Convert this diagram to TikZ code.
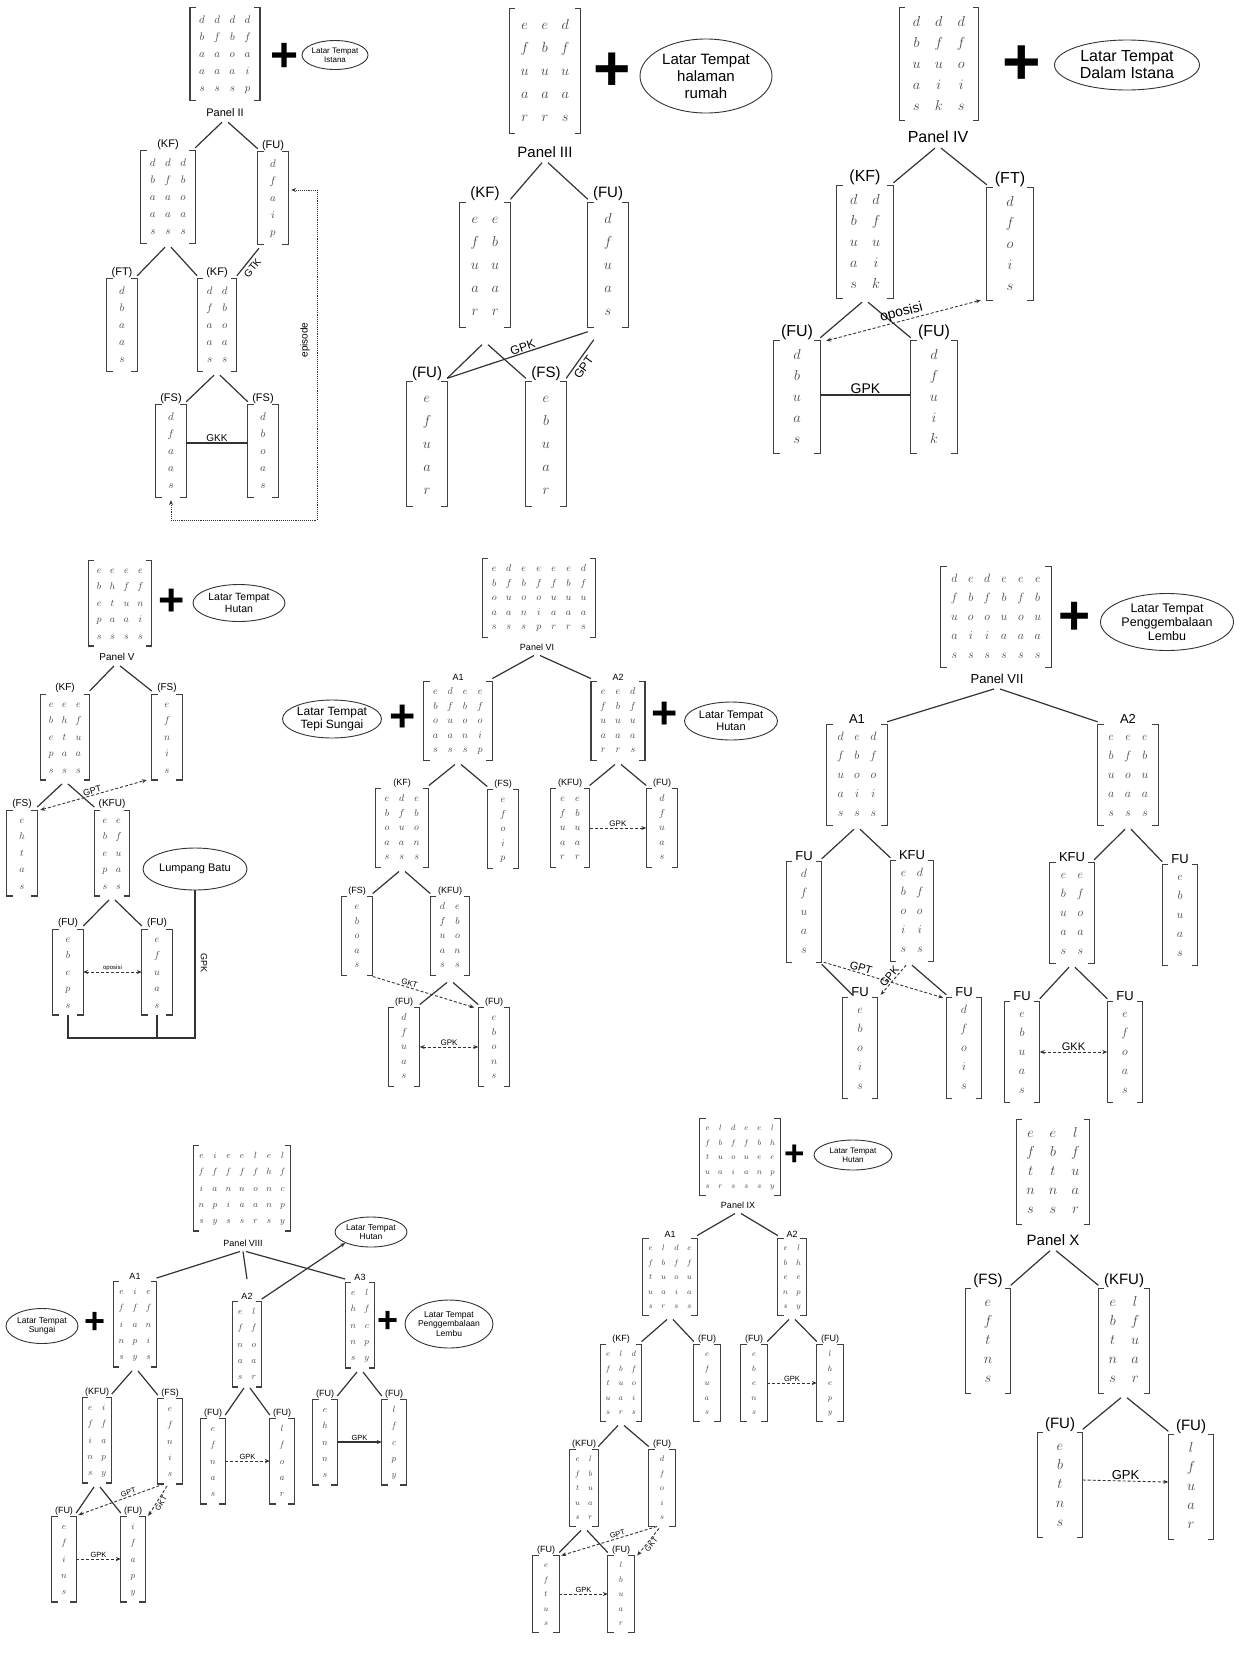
\documentclass[tikz,border=0pt]{standalone}
\usepackage{amsmath}
\usepackage{fontspec}
\setmainfont{Liberation Sans}
\usetikzlibrary{arrows.meta,shapes.geometric}

\tikzset{
  tree/.style={draw=black!80, line width=1.2pt},
  brk/.style={draw=black!75, line width=1.1pt},
  rel/.style={draw=black!80, line width=0.9pt, densely dashed},
  tip/.style={-{Stealth[length=5pt,width=4pt]}},
  tips/.style={{Stealth[length=5pt,width=4pt]}-{Stealth[length=5pt,width=4pt]}},
  ell/.style={ellipse, draw=black!80, line width=0.9pt, align=center, inner sep=0pt},
  plus/.style={font=\bfseries\fontsize{#1}{#1}\selectfont, inner sep=0pt},
  mtx/.style n args={5}{text=black!72, font=\fontsize{#1}{#2}\selectfont\setlength{\arraycolsep}{#3pt},
    inner xsep=#4pt, inner ysep=#5pt},
  hd/.style={label={[tg]above:{#1}}},
}

% brackets round the matrix nodes
\newcommand{\brackets}[1]{%
  \foreach \m in {#1}{%
    \draw[brk] ([xshift=6pt]\m.north west) -| (\m.south west) -- ++(6pt,0pt)
               ([xshift=-6pt]\m.north east) -| (\m.south east) -- ++(-6pt,0pt);}}
% two branches from a parent
\newcommand{\fork}[4][4pt]{%
  \draw[tree] ([xshift=-3pt,yshift=-#1]#2.south) -- ([yshift=3pt]#3.north east)
              ([xshift=3pt,yshift=-#1]#2.south) -- ([yshift=3pt]#4.north west);}

\begin{document}
\begin{tikzpicture}[x=1pt, y=-1pt, tg/.style={inner sep=1pt}]
\useasboundingbox (0,0) rectangle (1244,1663);
\fill[white] (0,0) rectangle (1244,1663);

% Panel II
\begin{scope}[mx/.style={mtx={11}{17}{4.5}{9}{3.5}, minimum width=30pt},
  tg/.style={font=\fontsize{11}{11}\selectfont, inner sep=1pt},
  rl/.style={font=\fontsize{10}{10}\selectfont, inner sep=1pt}]
  \node[mx] (p2top) at (225,54) {$\begin{matrix}d&d&d&d\\b&f&b&f\\a&a&o&a\\a&a&a&i\\s&s&s&p\end{matrix}$};
  \node[plus=48] (p2plus) at (285,57) {+};
  \node[ell, minimum width=62pt, minimum height=29pt, font=\fontsize{8}{9}\selectfont] (p2set) at (335,55) {Latar Tempat\\Istana};
  \node[tg] (p2lbl) at (225,113) {Panel II};
  \node[mx, hd={(KF)}] (p2kf) at (168,197) {$\begin{matrix}d&d&d\\b&f&b\\a&a&o\\a&a&a\\s&s&s\end{matrix}$};
  \node[mx, hd={(FU)}] (p2fu) at (273,198) {$\begin{matrix}d\\f\\a\\i\\p\end{matrix}$};
  \node[mx, hd={(FT)}] (p2ft) at (122,325) {$\begin{matrix}d\\b\\a\\a\\s\end{matrix}$};
  \node[mx, hd={(KF)}] (p2kfb) at (217,325) {$\begin{matrix}d&d\\f&b\\a&o\\a&a\\s&s\end{matrix}$};
  \node[mx, hd={(FS)}] (p2fsa) at (171,451) {$\begin{matrix}d\\f\\a\\a\\s\end{matrix}$};
  \node[mx, hd={(FS)}] (p2fsb) at (263,451) {$\begin{matrix}d\\b\\o\\a\\s\end{matrix}$};
  \brackets{p2top,p2kf,p2fu,p2ft,p2kfb,p2fsa,p2fsb}
  \fork{p2lbl}{p2kf}{p2fu}
  \fork{p2kf}{p2ft}{p2kfb}
  \fork{p2kfb}{p2fsa}{p2fsb}
  \draw[tree] ([xshift=-14pt,yshift=-4pt]p2fu.south) -- node[rl, sloped, below=2pt, pos=.55] {GTK} ([yshift=3pt]p2kfb.north east);
  \draw[tree] ([yshift=8pt]p2fsa.east) -- node[rl, above] {GKK} ([yshift=8pt]p2fsb.west);
  \coordinate (p2turn) at (317,520);
  \draw[rel, densely dotted, tips] ([xshift=3pt,yshift=8pt]p2fu.east) -| (p2turn) -| ([yshift=-3pt]p2fsa.south);
  \node[rl, rotate=90] (p2epi) at (305,340) {episode};
\end{scope}

% Panel III
\begin{scope}[mx/.style={mtx={15}{23}{6}{11}{5}, minimum width=40pt},
  tg/.style={font=\fontsize{15}{15}\selectfont, inner sep=1pt},
  rl/.style={font=\fontsize{12}{12}\selectfont, inner sep=1pt}]
  \node[mx] (p3top) at (545,71) {$\begin{matrix}e&e&d\\f&b&f\\u&u&u\\a&a&a\\r&r&s\end{matrix}$};
  \node[plus=64] (p3plus) at (612,72) {+};
  \node[ell, minimum width=132pt, minimum height=74pt, font=\fontsize{15}{17}\selectfont] (p3set) at (706,76) {Latar Tempat\\halaman\\rumah};
  \node[tg] (p3lbl) at (545,152) {Panel III};
  \node[mx, hd={(KF)}] (p3kf) at (485,265) {$\begin{matrix}e&e\\f&b\\u&u\\a&a\\r&r\end{matrix}$};
  \node[mx, hd={(FU)}] (p3fu) at (608,265) {$\begin{matrix}d\\f\\u\\a\\s\end{matrix}$};
  \node[mx, hd={(FU)}] (p3fua) at (427,444) {$\begin{matrix}e\\f\\u\\a\\r\end{matrix}$};
  \node[mx, hd={(FS)}] (p3fs) at (546,444) {$\begin{matrix}e\\b\\u\\a\\r\end{matrix}$};
  \brackets{p3top,p3kf,p3fu,p3fua,p3fs}
  \fork{p3lbl}{p3kf}{p3fu}
  \fork[17pt]{p3kf}{p3fua}{p3fs}
  \draw[tree] ([yshift=-4pt]p3fu.south west) -- node[rl, sloped, above, pos=.45] {GPK} ([yshift=3pt]p3fua.north east);
  \draw[tree] ([xshift=6pt,yshift=-12pt]p3fu.south west) -- node[rl, sloped, below=2pt, pos=.6] {GPT} ([yshift=3pt]p3fs.north east);
\end{scope}

% Panel IV
\begin{scope}[mx/.style={mtx={14}{21}{7}{13}{3.5}, minimum width=46pt},
  tg/.style={font=\fontsize{16}{16}\selectfont, inner sep=1pt},
  rl/.style={font=\fontsize{14}{14}\selectfont, inner sep=1pt}]
  \node[mx] (p4top) at (939,64) {$\begin{matrix}d&d&d\\b&f&f\\u&u&o\\a&i&i\\s&k&s\end{matrix}$};
  \node[plus=66] (p4plus) at (1022,65) {+};
  \node[ell, minimum width=145pt, minimum height=50pt, font=\fontsize{16}{17}\selectfont] (p4set) at (1127,65) {Latar Tempat\\Dalam Istana};
  \node[tg] (p4lbl) at (938,137) {Panel IV};
  \node[mx, hd={(KF)}] (p4kf) at (865,242) {$\begin{matrix}d&d\\b&f\\u&u\\a&i\\s&k\end{matrix}$};
  \node[mx, hd={(FT)}] (p4ft) at (1010,244) {$\begin{matrix}d\\f\\o\\i\\s\end{matrix}$};
  \node[mx, hd={(FU)}] (p4fua) at (797,397) {$\begin{matrix}d\\b\\u\\a\\s\end{matrix}$};
  \node[mx, hd={(FU)}] (p4fub) at (934,397) {$\begin{matrix}d\\f\\u\\i\\k\end{matrix}$};
  \brackets{p4top,p4kf,p4ft,p4fua,p4fub}
  \fork{p4lbl}{p4kf}{p4ft}
  \fork{p4kf}{p4fua}{p4fub}
  \draw[rel, tips] ([xshift=6pt]p4fua.north east) -- node[rl, sloped, above] {oposisi} ([xshift=-6pt]p4ft.south west);
  \draw[tree] ([yshift=2pt]p4fua.east) -- node[rl, above] {GPK} ([yshift=2pt]p4fub.west);
\end{scope}

% Panel V
\begin{scope}[mx/.style={mtx={10}{16.5}{4}{8}{1.5}, minimum width=30pt},
  tg/.style={font=\fontsize{10}{10}\selectfont, inner sep=1pt},
  rl/.style={font=\fontsize{9}{9}\selectfont, inner sep=1pt}]
  \node[mx] (p5top) at (120,603) {$\begin{matrix}e&e&e&e\\b&h&f&f\\e&t&u&n\\p&a&a&i\\s&s&s&s\end{matrix}$};
  \node[plus=45] (p5plus) at (172,602) {+};
  \node[ell, minimum width=92pt, minimum height=37pt, font=\fontsize{10.5}{12}\selectfont] (p5set) at (239,603) {Latar Tempat\\Hutan};
  \node[tg] (p5lbl) at (117,657) {Panel V};
  \node[mx, hd={(KF)}] (p5kf) at (65,737) {$\begin{matrix}e&e&e\\b&h&f\\e&t&u\\p&a&a\\s&s&s\end{matrix}$};
  \node[mx, hd={(FS)}] (p5fs) at (167,737) {$\begin{matrix}e\\f\\n\\i\\s\end{matrix}$};
  \node[mx, hd={(FS)}] (p5fsa) at (22,853) {$\begin{matrix}e\\h\\t\\a\\s\end{matrix}$};
  \node[mx, hd={(KFU)}] (p5kfu) at (112,853) {$\begin{matrix}e&e\\b&f\\e&u\\p&a\\s&s\end{matrix}$};
  \node[ell, minimum width=104pt, minimum height=42pt, font=\fontsize{11}{12}\selectfont] (p5lb) at (195,869) {Lumpang Batu};
  \node[mx, hd={(FU)}] (p5fua) at (68,972) {$\begin{matrix}e\\b\\e\\p\\s\end{matrix}$};
  \node[mx, hd={(FU)}] (p5fub) at (157,972) {$\begin{matrix}e\\f\\u\\a\\s\end{matrix}$};
  \brackets{p5top,p5kf,p5fs,p5fsa,p5kfu,p5fua,p5fub}
  \fork{p5lbl}{p5kf}{p5fs}
  \fork{p5kf}{p5fsa}{p5kfu}
  \fork{p5kfu}{p5fua}{p5fub}
  \draw[rel, tips] ([xshift=3pt]p5fsa.north east) -- node[rl, sloped, above] {GPT} ([xshift=-5pt]p5fs.south west);
  \draw[rel, tips] (p5fua.east) -- node[font=\fontsize{6}{6}\selectfont, inner sep=1pt, above] {oposisi} (p5fub.west);
  \draw[tree] (p5fua.south) -- ++(0,23) coordinate (p5base) -| (p5lb.south);
  \draw[tree] (p5fub.south) -- (p5fub.south |- p5base);
  \node[rl, rotate=-90] (p5gpk) at (204,963) {GPK};
\end{scope}

% Panel VI
\begin{scope}[mx/.style={mtx={10}{14.5}{4.5}{9}{3}, minimum width=31pt},
  tg/.style={font=\fontsize{9}{9}\selectfont, inner sep=1pt},
  rl/.style={font=\fontsize{8}{8}\selectfont, inner sep=1pt}]
  \node[mx] (p6top) at (539,598) {$\begin{matrix}e&d&e&e&e&e&d\\b&f&b&f&f&b&f\\o&u&o&o&u&u&u\\a&a&n&i&a&a&a\\s&s&s&p&r&r&s\end{matrix}$};
  \node[tg] (p6lbl) at (537,647) {Panel VI};
  \node[mx, hd={A1}] (p6a1) at (458,721) {$\begin{matrix}e&d&e&e\\b&f&b&f\\o&u&o&o\\a&a&n&i\\s&s&s&p\end{matrix}$};
  \node[mx, hd={A2}] (p6a2) at (618,721) {$\begin{matrix}e&e&d\\f&b&f\\u&u&u\\a&a&a\\r&r&s\end{matrix}$};
  \node[plus=45] (p6plusa) at (403,718) {+};
  \node[ell, minimum width=92pt, minimum height=38pt, font=\fontsize{12}{13}\selectfont] (p6seta) at (332,719) {Latar Tempat\\Tepi Sungai};
  \node[plus=45] (p6plusb) at (665,715) {+};
  \node[ell, minimum width=93pt, minimum height=38pt, font=\fontsize{11}{12}\selectfont] (p6setb) at (731,721) {Latar Tempat\\Hutan};
  \node[mx, hd={(KF)}] (p6kf) at (402,828) {$\begin{matrix}e&d&e\\b&f&b\\o&u&o\\a&a&n\\s&s&s\end{matrix}$};
  \node[mx, hd={(FS)}] (p6fs) at (503,829) {$\begin{matrix}e\\f\\o\\i\\p\end{matrix}$};
  \node[mx, hd={(KFU)}] (p6kfu) at (570,828) {$\begin{matrix}e&e\\f&b\\u&u\\a&a\\r&r\end{matrix}$};
  \node[mx, hd={(FU)}] (p6fu) at (662,828) {$\begin{matrix}d\\f\\u\\a\\s\end{matrix}$};
  \node[mx, hd={(FS)}] (p6fsb) at (357,936) {$\begin{matrix}e\\b\\o\\a\\s\end{matrix}$};
  \node[mx, hd={(KFU)}] (p6kfub) at (450,936) {$\begin{matrix}d&e\\f&b\\u&o\\a&n\\s&s\end{matrix}$};
  \node[mx, hd={(FU)}] (p6fua) at (404,1047) {$\begin{matrix}d\\f\\u\\a\\s\end{matrix}$};
  \node[mx, hd={(FU)}] (p6fub) at (494,1047) {$\begin{matrix}e\\b\\o\\n\\s\end{matrix}$};
  \brackets{p6top,p6a1,p6a2,p6kf,p6fs,p6kfu,p6fu,p6fsb,p6kfub,p6fua,p6fub}
  \fork{p6lbl}{p6a1}{p6a2}
  \fork{p6a1}{p6kf}{p6fs}
  \fork{p6a2}{p6kfu}{p6fu}
  \fork{p6kf}{p6fsb}{p6kfub}
  \fork[7pt]{p6kfub}{p6fua}{p6fub}
  \draw[rel, tip] (p6kfu.east) -- node[rl, above] {GPK} (p6fu.west);
  \draw[rel, tip] ([yshift=-1pt]p6fsb.south east) -- node[rl, sloped, above, pos=.35] {GKT} ([xshift=-4pt]p6fub.north west);
  \draw[rel, tips] (p6fua.east) -- node[rl, above] {GPK} (p6fub.west);
\end{scope}

% Panel VII
\begin{scope}[mx/.style={mtx={13}{19}{5}{10}{2.5}, minimum width=35pt},
  tg/.style={font=\fontsize{13}{13}\selectfont, inner sep=1pt},
  rl/.style={font=\fontsize{11}{11}\selectfont, inner sep=1pt}]
  \node[mx] (p7top) at (996,617) {$\begin{matrix}d&e&d&e&e&e\\f&b&f&b&f&b\\u&o&o&u&o&u\\a&i&i&a&a&a\\s&s&s&s&s&s\end{matrix}$};
  \node[plus=55] (p7plus) at (1075,618) {+};
  \node[ell, minimum width=133pt, minimum height=57pt, font=\fontsize{12.5}{14}\selectfont] (p7set) at (1167,622) {Latar Tempat\\Penggembalaan\\Lembu};
  \node[tg] (p7lbl) at (997,679) {Panel VII};
  \node[mx, hd={A1}] (p7a1) at (857,775) {$\begin{matrix}d&e&d\\f&b&f\\u&o&o\\a&i&i\\s&s&s\end{matrix}$};
  \node[mx, hd={A2}] (p7a2) at (1128,775) {$\begin{matrix}e&e&e\\b&f&b\\u&o&u\\a&a&a\\s&s&s\end{matrix}$};
  \node[mx, hd={FU}] (p7fua) at (804,912) {$\begin{matrix}d\\f\\u\\a\\s\end{matrix}$};
  \node[mx, hd={KFU}] (p7kfu) at (912,911) {$\begin{matrix}e&d\\b&f\\o&o\\i&i\\s&s\end{matrix}$};
  \node[mx, hd={KFU}] (p7kfub) at (1072,913) {$\begin{matrix}e&e\\b&f\\u&o\\a&a\\s&s\end{matrix}$};
  \node[mx, hd={FU}] (p7fub) at (1180,915) {$\begin{matrix}e\\b\\u\\a\\s\end{matrix}$};
  \node[mx, hd={FU}] (p7fuc) at (860,1048) {$\begin{matrix}e\\b\\o\\i\\s\end{matrix}$};
  \node[mx, hd={FU}] (p7fud) at (964,1048) {$\begin{matrix}d\\f\\o\\i\\s\end{matrix}$};
  \node[mx, hd={FU}] (p7fue) at (1022,1052) {$\begin{matrix}e\\b\\u\\a\\s\end{matrix}$};
  \node[mx, hd={FU}] (p7fuf) at (1125,1052) {$\begin{matrix}e\\f\\o\\a\\s\end{matrix}$};
  \brackets{p7top,p7a1,p7a2,p7fua,p7kfu,p7kfub,p7fub,p7fuc,p7fud,p7fue,p7fuf}
  \fork{p7lbl}{p7a1}{p7a2}
  \fork{p7a1}{p7fua}{p7kfu}
  \fork{p7a2}{p7kfub}{p7fub}
  \fork{p7kfub}{p7fue}{p7fuf}
  \draw[tree] ([yshift=-2pt]p7fua.south east) -- ([xshift=10pt,yshift=3pt]p7fuc.north west);
  \draw[tree] ([yshift=-4pt]p7kfu.south) -- ([yshift=3pt]p7fud.north west);
  \draw[rel, tip] ([xshift=2pt]p7fua.south east) -- node[rl, sloped, above, pos=.3] {GPT} ([xshift=-3pt]p7fud.north west);
  \draw[rel, tip] ([xshift=-6pt,yshift=-4pt]p7kfu.south) -- node[rl, sloped, above] {GPK} ([xshift=3pt,yshift=3pt]p7fuc.north east);
  \draw[rel, tips] (p7fue.east) -- node[rl, above] {GKK} (p7fuf.west);
\end{scope}

% Panel VIII
\begin{scope}[mx/.style={mtx={9}{16.3}{4}{5}{2}, minimum width=24pt},
  tg/.style={font=\fontsize{9}{9}\selectfont, inner sep=1pt},
  rl/.style={font=\fontsize{7.5}{7.5}\selectfont, inner sep=1pt}]
  \node[mx] (p8top) at (242,1188) {$\begin{matrix}e&i&e&e&l&e&l\\f&f&f&f&f&h&f\\i&a&n&n&o&n&c\\n&p&i&a&a&n&p\\s&y&s&s&r&s&y\end{matrix}$};
  \node[tg] (p8lbl) at (243,1243) {Panel VIII};
  \node[mx, hd={A1}] (p8a1) at (135,1324) {$\begin{matrix}e&i&e\\f&f&f\\i&a&n\\n&p&i\\s&y&s\end{matrix}$};
  \node[mx, hd={A2}] (p8a2) at (247,1344) {$\begin{matrix}e&l\\f&f\\n&o\\a&a\\s&r\end{matrix}$};
  \node[mx, hd={A3}] (p8a3) at (360,1325) {$\begin{matrix}e&l\\h&f\\n&c\\n&p\\s&y\end{matrix}$};
  \node[ell, minimum width=72pt, minimum height=30pt, font=\fontsize{8.5}{9.5}\selectfont] (p8seta) at (371,1232) {Latar Tempat\\Hutan};
  \node[ell, minimum width=72pt, minimum height=35pt, font=\fontsize{8.5}{9.5}\selectfont] (p8setb) at (42,1326) {Latar Tempat\\Sungai};
  \node[plus=36] (p8plusa) at (95,1323) {+};
  \node[plus=36] (p8plusb) at (388,1322) {+};
  \node[ell, minimum width=88pt, minimum height=48pt, font=\fontsize{8.5}{9.5}\selectfont] (p8setc) at (449,1324) {Latar Tempat\\Penggembalaan\\Lembu};
  \node[mx, hd={(KFU)}] (p8kfu) at (97,1440) {$\begin{matrix}e&i\\f&f\\i&a\\n&p\\s&y\end{matrix}$};
  \node[mx, hd={(FS)}] (p8fs) at (170,1441) {$\begin{matrix}e\\f\\n\\i\\s\end{matrix}$};
  \node[mx, hd={(FU)}] (p8fua) at (213,1461) {$\begin{matrix}e\\f\\n\\a\\s\end{matrix}$};
  \node[mx, hd={(FU)}] (p8fub) at (282,1461) {$\begin{matrix}l\\f\\o\\a\\r\end{matrix}$};
  \node[mx, hd={(FU)}] (p8fuc) at (325,1442) {$\begin{matrix}e\\h\\n\\n\\s\end{matrix}$};
  \node[mx, hd={(FU)}] (p8fud) at (394,1442) {$\begin{matrix}l\\f\\c\\p\\y\end{matrix}$};
  \node[mx, hd={(FU)}] (p8fue) at (64,1559) {$\begin{matrix}e\\f\\i\\n\\s\end{matrix}$};
  \node[mx, hd={(FU)}] (p8fuf) at (133,1559) {$\begin{matrix}i\\f\\a\\p\\y\end{matrix}$};
  \brackets{p8top,p8a1,p8a2,p8a3,p8kfu,p8fs,p8fua,p8fub,p8fuc,p8fud,p8fue,p8fuf}
  \fork{p8lbl}{p8a1}{p8a3}
  \draw[tree] ([yshift=-4pt]p8lbl.south) -- ([yshift=22pt]p8a2.north);
  \draw[tree, tip] ([yshift=2pt]p8a2.north east) -- (p8seta.south west);
  \fork{p8a1}{p8kfu}{p8fs}
  \fork[1pt]{p8a2}{p8fua}{p8fub}
  \fork{p8a3}{p8fuc}{p8fud}
  \fork{p8kfu}{p8fue}{p8fuf}
  \draw[rel, tip] (p8fua.east) -- node[rl, above] {GPK} (p8fub.west);
  \draw[tree, tip] (p8fuc.east) -- node[rl, above] {GPK} (p8fud.west);
  \draw[rel, tip] ([xshift=-6pt]p8fs.south) -- node[rl, sloped, above, pos=.4] {GPT} ([xshift=2pt,yshift=1pt]p8fue.north east);
  \draw[rel, tip] ([xshift=-3pt,yshift=-2pt]p8fs.south) -- node[rl, sloped, below] {GKT} ([xshift=3pt]p8fuf.north east);
  \draw[rel, tip] (p8fue.east) -- node[rl, above] {GPK} (p8fuf.west);
\end{scope}

% Panel IX
\begin{scope}[mx/.style={mtx={8.5}{14.5}{4}{5}{2}, minimum width=26pt},
  tg/.style={font=\fontsize{9}{9}\selectfont, inner sep=1pt},
  rl/.style={font=\fontsize{7.5}{7.5}\selectfont, inner sep=1pt}]
  \node[mx] (p9top) at (740,1157) {$\begin{matrix}e&l&d&e&e&l\\f&b&f&f&b&h\\t&u&o&u&e&e\\u&a&i&a&n&p\\s&r&s&s&s&y\end{matrix}$};
  \node[plus=35] (p9plus) at (795,1155) {+};
  \node[ell, minimum width=78pt, minimum height=30pt, font=\fontsize{8}{9}\selectfont] (p9set) at (853,1155) {Latar Tempat\\Hutan};
  \node[tg] (p9lbl) at (738,1205) {Panel IX};
  \node[mx, hd={A1}] (p9a1) at (670,1277) {$\begin{matrix}e&l&d&e\\f&b&f&f\\t&u&o&u\\u&a&i&a\\s&r&s&s\end{matrix}$};
  \node[mx, hd={A2}] (p9a2) at (792,1277) {$\begin{matrix}e&l\\b&h\\e&e\\n&p\\s&y\end{matrix}$};
  \node[mx, hd={(KF)}] (p9kf) at (621,1383) {$\begin{matrix}e&l&d\\f&b&f\\t&u&o\\u&a&i\\s&r&s\end{matrix}$};
  \node[mx, hd={(FU)}] (p9fu) at (707,1383) {$\begin{matrix}e\\f\\u\\a\\s\end{matrix}$};
  \node[mx, hd={(FU)}] (p9fua) at (754,1383) {$\begin{matrix}e\\b\\e\\n\\s\end{matrix}$};
  \node[mx, hd={(FU)}] (p9fub) at (830,1383) {$\begin{matrix}l\\h\\e\\p\\y\end{matrix}$};
  \node[mx, hd={(KFU)}] (p9kfu) at (584,1488) {$\begin{matrix}e&l\\f&b\\t&u\\u&a\\s&r\end{matrix}$};
  \node[mx, hd={(FU)}] (p9fuc) at (662,1488) {$\begin{matrix}d\\f\\o\\i\\s\end{matrix}$};
  \node[mx, hd={(FU)}] (p9fud) at (546,1594) {$\begin{matrix}e\\f\\t\\u\\s\end{matrix}$};
  \node[mx, hd={(FU)}] (p9fue) at (621,1594) {$\begin{matrix}l\\b\\u\\a\\r\end{matrix}$};
  \brackets{p9top,p9a1,p9a2,p9kf,p9fu,p9fua,p9fub,p9kfu,p9fuc,p9fud,p9fue}
  \fork{p9lbl}{p9a1}{p9a2}
  \fork{p9a1}{p9kf}{p9fu}
  \fork{p9a2}{p9fua}{p9fub}
  \fork{p9kf}{p9kfu}{p9fuc}
  \fork{p9kfu}{p9fud}{p9fue}
  \draw[rel, tip] (p9fua.east) -- node[rl, above] {GPK} (p9fub.west);
  \draw[rel, tip] ([xshift=-5pt]p9fuc.south) -- node[rl, sloped, above, pos=.4] {GPT} ([xshift=2pt]p9fud.north east);
  \draw[rel, tip] ([xshift=-3pt,yshift=-2pt]p9fuc.south) -- node[rl, sloped, below] {GKT} ([xshift=3pt]p9fue.north east);
  \draw[rel, tip] (p9fud.east) -- node[rl, above] {GPK} (p9fue.west);
\end{scope}

% Panel X
\begin{scope}[mx/.style={mtx={14}{19}{7}{10}{5}, minimum width=45pt},
  tg/.style={font=\fontsize{15}{15}\selectfont, inner sep=1pt},
  rl/.style={font=\fontsize{13}{13}\selectfont, inner sep=1pt}]
  \node[mx] (p10top) at (1053,1172) {$\begin{matrix}e&e&l\\f&b&f\\t&t&u\\n&n&a\\s&s&r\end{matrix}$};
  \node[tg] (p10lbl) at (1053,1240) {Panel X};
  \node[mx, hd={(FS)}] (p10fs) at (988,1341) {$\begin{matrix}e\\f\\t\\n\\s\end{matrix}$};
  \node[mx, hd={(KFU)}] (p10kfu) at (1124,1341) {$\begin{matrix}e&l\\b&f\\t&u\\n&a\\s&r\end{matrix}$};
  \node[mx, hd={(FU)}] (p10fua) at (1060,1485) {$\begin{matrix}e\\b\\t\\n\\s\end{matrix}$};
  \node[mx, hd={(FU)}] (p10fub) at (1191,1487) {$\begin{matrix}l\\f\\u\\a\\r\end{matrix}$};
  \brackets{p10top,p10fs,p10kfu,p10fua,p10fub}
  \fork{p10lbl}{p10fs}{p10kfu}
  \fork{p10kfu}{p10fua}{p10fub}
  \draw[rel, tip] ([yshift=5pt]p10fua.east) -- node[rl, above] {GPK} ([yshift=5pt]p10fub.west);
\end{scope}

\end{tikzpicture}
\end{document}
